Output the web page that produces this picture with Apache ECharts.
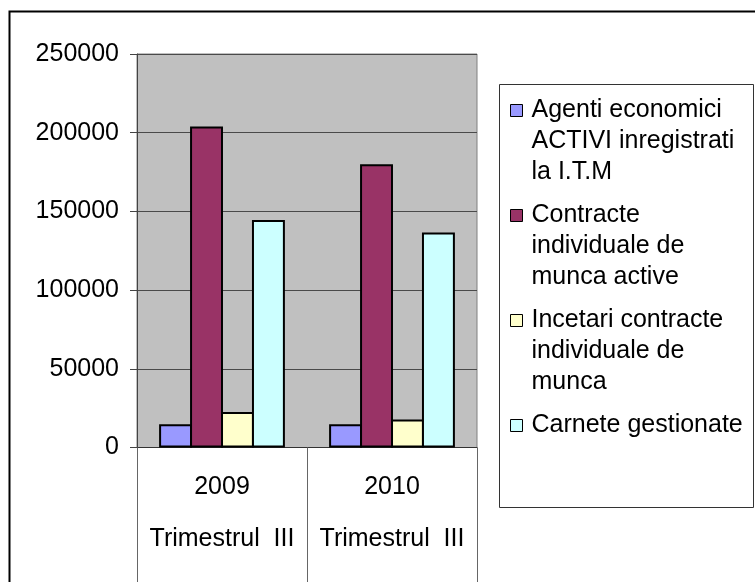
<!DOCTYPE html>
<html>
<head>
<meta charset="utf-8">
<script src="https://cdn.jsdelivr.net/npm/echarts@6/dist/echarts.min.js"></script>
<style>
    html, body {margin: 0; padding: 0; background: #fff;}
    #main {width: 755px; height: 582px;}
</style>
</head>
<body>
<div id="main"></div>
<script>
var categories = ['2009\n\nTrimestrul  III', '2010\n\nTrimestrul  III'];
var seriesNames = [
    'Agenti economici\nACTIVI inregistrati\nla I.T.M',
    'Contracte\nindividuale de\nmunca active',
    'Incetari contracte\nindividuale de\nmunca',
    'Carnete gestionate'
];
var agenti = [14800, 14800];
var contracte = [204000, 180000];
var incetari = [22600, 17800];
var carnete = [144500, 136600];
var yTicks = [0, 50000, 100000, 150000, 200000, 250000];
var colors = ['#9999FF', '#993366', '#FFFFCC', '#CCFFFF'];

var myChart = echarts.init(document.getElementById('main'));
var font = '"Liberation Sans", Arial, sans-serif';
var values = [agenti, contracte, incetari, carnete];
var lineH = 31;

var series = [];
var legends = [];
var legendTop = 94.5;
for (var i = 0; i < values.length; i++) {
    series.push({
        name: seriesNames[i],
        type: 'bar',
        data: values[i],
        barGap: '-6%',
        barCategoryGap: '26%',
        itemStyle: {color: colors[i], borderColor: '#000', borderWidth: 2},
        emphasis: {disabled: true}
    });
    // one legend per entry so the square sits on the first text line
    var lines = seriesNames[i].split('\n').length;
    var h = lines * lineH;
    var sq = (lineH - 12) / 2;
    legends.push({
        orient: 'vertical',
        left: 510, top: legendTop,
        padding: 0,
        itemWidth: 12, itemHeight: h,
        icon: 'path://M0,0M0,' + sq + 'H12V' + (sq + 12) + 'H0ZM0,' + h,
        selectedMode: false,
        itemStyle: {borderColor: '#000', borderWidth: 1},
        textStyle: {fontFamily: font, fontSize: 25, color: '#000', lineHeight: lineH, padding: [0, 0, 0, 4]},
        data: [seriesNames[i]]
    });
    legendTop += h + 12;
}

myChart.setOption({
    animation: false,
    color: colors,
    grid: {
        left: 137, right: 278, top: 54, bottom: 134.5,
        show: true, backgroundColor: '#C0C0C0', borderColor: '#808080', borderWidth: 1
    },
    legend: legends,
    graphic: [
        {type: 'rect', z: -10, shape: {x: 9.5, y: 11.5, width: 800, height: 700},
            style: {fill: null, stroke: '#000', lineWidth: 2}},
        {type: 'rect', z: -10, shape: {x: 499.5, y: 84.5, width: 254, height: 423},
            style: {fill: '#fff', stroke: '#333', lineWidth: 1}}
    ],
    xAxis: {
        type: 'category',
        data: categories,
        axisLine: {lineStyle: {color: '#333', width: 1}},
        axisTick: {show: true, interval: 0, length: 140, lineStyle: {color: '#666'}},
        axisLabel: {
            interval: 0, margin: 27, fontFamily: font, fontSize: 25,
            color: '#000', lineHeight: 26
        }
    },
    yAxis: {
        type: 'value',
        min: yTicks[0], max: yTicks[yTicks.length - 1], interval: yTicks[1] - yTicks[0],
        axisLine: {show: true, lineStyle: {color: '#444'}},
        axisTick: {show: true, length: 7, lineStyle: {color: '#444'}},
        splitLine: {lineStyle: {color: '#4a4a4a', width: 1}},
        axisLabel: {
            margin: 18, fontFamily: font, fontSize: 25, color: '#000',
            formatter: function (v) { return String(v); }
        }
    },
    series: series
});
</script>
</body>
</html>
